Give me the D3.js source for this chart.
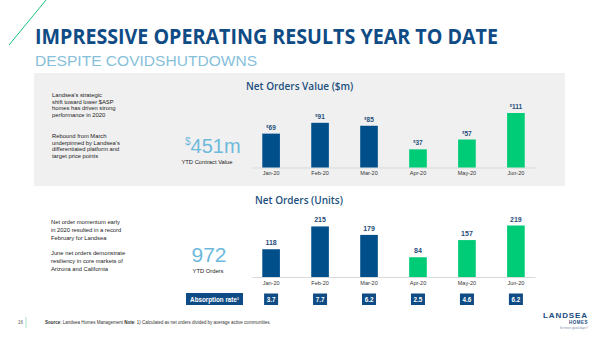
<!DOCTYPE html>
<html>
<head>
<meta charset="utf-8">
<script src="https://cdn.jsdelivr.net/npm/d3@7"></script>
<style>
  html, body { margin: 0; padding: 0; background: #fff; }
  svg { display: block; }
</style>
</head>
<body>
<div id="chart"></div>
<script>
// chart data
const months = ["Jan-20", "Feb-20", "Mar-20", "Apr-20", "May-20", "Jun-20"];
const quarters = ["Q1", "Q1", "Q1", "Q2", "Q2", "Q2"];
const orderValue = [69, 91, 85, 37, 57, 111];
const orderUnits = [118, 215, 179, 84, 157, 219];
const absorption = ["3.7", "7.7", "6.2", "2.5", "4.6", "6.2"];

const width = 600, height = 337;
const blue = "#004f8b", green = "#00cc78", navy = "#0f4b84";
const sans = "'Liberation Sans', Arial, sans-serif";
const head = "'Open Sans', 'Liberation Sans', sans-serif";

const svg = d3.select("#chart").append("svg")
  .attr("width", width)
  .attr("height", height);

const color = d3.scaleOrdinal().domain(["Q1", "Q2"]).range([blue, green]);

// title area
svg.append("line")
  .attr("x1", 9).attr("y1", 45).attr("x2", 46).attr("y2", 0)
  .attr("stroke", "#19c27a").attr("stroke-width", 1);

svg.append("text")
  .attr("x", 35).attr("y", 44)
  .attr("font-family", head).attr("font-weight", 700).attr("font-size", 21)
  .attr("fill", navy)
  .attr("textLength", 463).attr("lengthAdjust", "spacingAndGlyphs")
  .text("IMPRESSIVE OPERATING RESULTS YEAR TO DATE");

svg.append("text")
  .attr("x", 35).attr("y", 66)
  .attr("font-family", sans).attr("font-weight", 300).attr("font-size", 14)
  .attr("fill", "#86bfda")
  .attr("textLength", 222).attr("lengthAdjust", "spacingAndGlyphs")
  .text("DESPITE COVIDSHUTDOWNS");

// grey panel behind top chart
svg.append("rect")
  .attr("x", 34).attr("y", 73).attr("width", 531).attr("height", 113)
  .attr("fill", "#f0f0f0");

// shared x scale
const x = d3.scaleBand()
  .domain(months)
  .range([252, 535])
  .paddingInner(0.64)
  .paddingOuter(0.21);

function drawChart(opts) {
  const g = svg.append("g");

  g.append("text")
    .attr("x", opts.titleX).attr("y", opts.titleY)
    .attr("font-family", head).attr("font-weight", 600).attr("font-size", 10)
    .attr("fill", "#1b4f7e")
    .text(opts.title);

  const xAxis = d3.axisBottom(x).tickSize(0).tickPadding(4);
  const ax = g.append("g")
    .attr("transform", `translate(0, ${opts.base})`)
    .call(xAxis);
  ax.select(".domain").attr("stroke", "#d9d9d9").attr("stroke-width", 1);
  ax.selectAll("text")
    .attr("font-family", sans).attr("font-size", 5.5).attr("fill", "#333");

  g.append("g").selectAll("rect")
    .data(opts.values)
    .join("rect")
    .attr("x", (d, i) => x(months[i]))
    .attr("y", d => opts.y(d))
    .attr("width", x.bandwidth())
    .attr("height", d => opts.base - opts.y(d))
    .attr("fill", (d, i) => color(quarters[i]));

  const lab = g.append("g").selectAll("text")
    .data(opts.values)
    .join("text")
    .attr("x", (d, i) => x(months[i]) + x.bandwidth() / 2)
    .attr("y", d => opts.y(d) - 4)
    .attr("text-anchor", "middle")
    .attr("font-family", sans).attr("font-weight", 700).attr("font-size", opts.labelSize)
    .attr("fill", "#1f4e79");
  if (opts.dollar) {
    lab.append("tspan").attr("font-size", 4).attr("dy", -2).text("$");
    lab.append("tspan").attr("dy", 2).text(d => d);
  } else {
    lab.text(d => d);
  }
}

const yValue = d3.scaleLinear().domain([0, 111]).range([167.5, 113]);
drawChart({
  title: "Net Orders Value ($m)", titleX: 246, titleY: 90,
  values: orderValue, y: yValue, base: 167.5, dollar: true, labelSize: 6.5
});

const yUnits = d3.scaleLinear().domain([0, 219]).range([277, 225.5]);
drawChart({
  title: "Net Orders (Units)", titleX: 255, titleY: 204,
  values: orderUnits, y: yUnits, base: 277, dollar: false, labelSize: 7
});

// absorption rate row
svg.append("rect")
  .attr("x", 186).attr("y", 293).attr("width", 57).attr("height", 12)
  .attr("fill", navy);
const absText = svg.append("text")
  .attr("x", 214.5).attr("y", 301.5)
  .attr("text-anchor", "middle")
  .attr("font-family", sans).attr("font-weight", 700).attr("font-size", 6.3)
  .attr("fill", "#fff");
absText.append("tspan").text("Absorption rate");
absText.append("tspan").attr("font-size", 3.5).attr("dy", -2).text("1");

const absG = svg.append("g");
absG.selectAll("rect")
  .data(absorption)
  .join("rect")
  .attr("x", (d, i) => x(months[i]) + x.bandwidth() / 2 - 7)
  .attr("y", 293.5).attr("width", 14).attr("height", 11.5)
  .attr("fill", navy);
absG.selectAll("text")
  .data(absorption)
  .join("text")
  .attr("x", (d, i) => x(months[i]) + x.bandwidth() / 2)
  .attr("y", 301.5)
  .attr("text-anchor", "middle")
  .attr("font-family", sans).attr("font-weight", 700).attr("font-size", 6.3)
  .attr("fill", "#fff")
  .text(d => d);

// left commentary
function para(lines, x0, y0, step) {
  const t = svg.append("text")
    .attr("font-family", sans).attr("font-size", 5.8).attr("fill", "#222");
  lines.forEach((l, i) => {
    t.append("tspan").attr("x", x0).attr("y", y0 + i * step).text(l);
  });
}
para(["Landsea\u2019s strategic", "shift toward lower $ASP", "homes has driven strong", "performance in 2020"], 52, 97, 6.7);
para(["Rebound from March", "underpinned by Landsea\u2019s", "differentiated platform and", "target price points"], 52, 138, 6.7);
para(["Net order momentum early", "in 2020 resulted in a record", "February for Landsea"], 51, 224, 8);
para(["June net orders demonstrate", "resiliency in core markets of", "Arizona and California"], 51, 255, 8);

// big numbers
const big = svg.append("text")
  .attr("x", 185).attr("y", 153)
  .attr("font-family", sans).attr("font-size", 20).attr("fill", "#6db9dc");
big.append("tspan").attr("font-size", 10).attr("dy", -8).text("$");
big.append("tspan").attr("dy", 8).text("451m");
svg.append("text")
  .attr("x", 207).attr("y", 164).attr("text-anchor", "middle")
  .attr("font-family", sans).attr("font-size", 5.8).attr("fill", "#222")
  .text("YTD Contract Value");

svg.append("text")
  .attr("x", 209).attr("y", 262).attr("text-anchor", "middle")
  .attr("font-family", sans).attr("font-size", 21).attr("fill", "#6db9dc")
  .text("972");
svg.append("text")
  .attr("x", 208).attr("y", 273).attr("text-anchor", "middle")
  .attr("font-family", sans).attr("font-size", 5.8).attr("fill", "#222")
  .text("YTD Orders");

// footer
svg.append("text")
  .attr("x", 18).attr("y", 324)
  .attr("font-family", sans).attr("font-size", 4.5).attr("fill", "#555")
  .text("16");
svg.append("line")
  .attr("x1", 26).attr("y1", 317).attr("x2", 26).attr("y2", 328)
  .attr("stroke", "#b8e6cf").attr("stroke-width", 1.2);
const foot = svg.append("text")
  .attr("x", 45).attr("y", 324)
  .attr("font-family", sans).attr("font-size", 4.5).attr("fill", "#333");
foot.append("tspan").attr("font-weight", 700).text("Source");
foot.append("tspan").text(": Landsea Homes Management ");
foot.append("tspan").attr("font-weight", 700).text("Note");
foot.append("tspan").text(": 1) Calculated as net orders divided by average active communities.");

// logo
svg.append("text")
  .attr("x", 588).attr("y", 318).attr("text-anchor", "end")
  .attr("font-family", sans).attr("font-weight", 700).attr("font-size", 8)
  .attr("fill", "#1a4c80").attr("letter-spacing", 0.9)
  .text("LANDSEA");
svg.append("text")
  .attr("x", 588).attr("y", 324).attr("text-anchor", "end")
  .attr("font-family", sans).attr("font-weight", 700).attr("font-size", 4.5)
  .attr("fill", "#1a4c80").attr("letter-spacing", 0.5)
  .text("HOMES");
svg.append("text")
  .attr("x", 588).attr("y", 328.5).attr("text-anchor", "end")
  .attr("font-family", sans).attr("font-size", 3).attr("fill", "#7a8fa8")
  .text("for more good days\u00ae");
</script>
</body>
</html>
